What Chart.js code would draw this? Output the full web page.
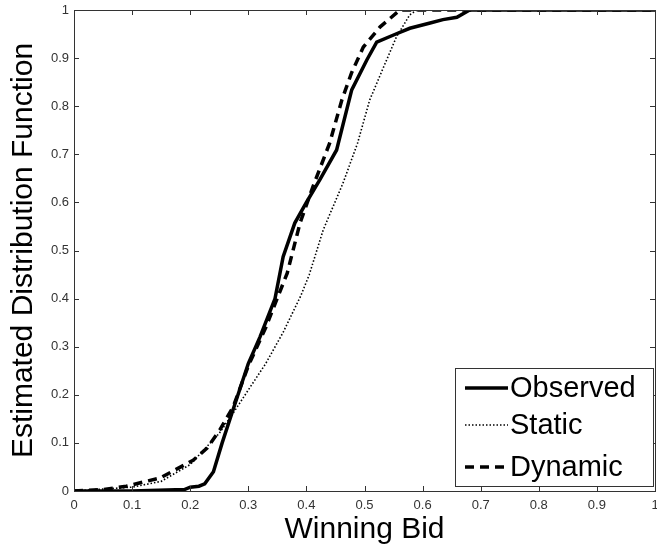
<!DOCTYPE html>
<html>
<head>
<meta charset="utf-8">
<script src="https://cdn.jsdelivr.net/npm/chart.js@4.4.1/dist/chart.umd.min.js"></script>
<style>
  html, body { margin: 0; padding: 0; background: #fff; }
  #wrap { width: 657px; height: 548px; }
</style>
</head>
<body>
<div id="wrap"><canvas id="cdf"></canvas></div>
<script>
// values
const observedX = [0, 0.1, 0.19, 0.2, 0.215, 0.225, 0.24, 0.255, 0.274, 0.3, 0.32, 0.346, 0.36, 0.38, 0.4, 0.423, 0.452, 0.478, 0.504, 0.521, 0.55, 0.578, 0.613, 0.635, 0.659, 0.681, 1];
const observedY = [0, 0, 0.003, 0.008, 0.01, 0.015, 0.04, 0.1, 0.17, 0.265, 0.32, 0.4, 0.487, 0.557, 0.6, 0.647, 0.709, 0.834, 0.896, 0.933, 0.948, 0.962, 0.973, 0.98, 0.985, 1, 1];

const staticX = [0, 0.1, 0.15, 0.2, 0.25, 0.274, 0.3, 0.33, 0.36, 0.39, 0.405, 0.429, 0.463, 0.488, 0.509, 0.538, 0.555, 0.578, 0.59, 1];
const staticY = [0, 0.008, 0.02, 0.055, 0.12, 0.162, 0.21, 0.265, 0.33, 0.405, 0.45, 0.543, 0.64, 0.723, 0.813, 0.896, 0.944, 0.99, 1, 1];

const dynamicX = [0, 0.05, 0.09, 0.148, 0.205, 0.229, 0.251, 0.274, 0.3, 0.33, 0.367, 0.389, 0.411, 0.44, 0.461, 0.478, 0.498, 0.527, 0.561, 1];
const dynamicY = [0, 0.003, 0.01, 0.027, 0.064, 0.089, 0.127, 0.175, 0.26, 0.34, 0.453, 0.557, 0.632, 0.723, 0.813, 0.87, 0.923, 0.965, 1, 1];

const tickValues = [0, 0.1, 0.2, 0.3, 0.4, 0.5, 0.6, 0.7, 0.8, 0.9, 1];

const FONT = '"Liberation Sans", Arial, sans-serif';
const AXIS = '#333';

function pts(xs, ys) {
  return xs.map((x, i) => ({ x: x, y: ys[i] }));
}

// MATLAB style box with inward ticks on all four sides
const boxPlugin = {
  id: 'box',
  afterDatasetsDraw(chart) {
    const { ctx, chartArea: a, scales: { x, y } } = chart;
    ctx.save();
    ctx.strokeStyle = AXIS;
    ctx.lineWidth = 1;
    ctx.strokeRect(a.left + 0.5, a.top + 0.5, a.right - a.left, a.bottom - a.top);
    ctx.beginPath();
    tickValues.forEach(v => {
      const px = Math.round(x.getPixelForValue(v)) + 0.5;
      ctx.moveTo(px, a.bottom); ctx.lineTo(px, a.bottom - 5);
      ctx.moveTo(px, a.top); ctx.lineTo(px, a.top + 5);
      const py = Math.round(y.getPixelForValue(v)) + 0.5;
      ctx.moveTo(a.left, py); ctx.lineTo(a.left + 5, py);
      ctx.moveTo(a.right, py); ctx.lineTo(a.right - 5, py);
    });
    ctx.stroke();
    ctx.restore();
  }
};

// legend box inside the lower right corner
const legendPlugin = {
  id: 'boxLegend',
  afterDraw(chart) {
    const { ctx, chartArea: a } = chart;
    const w = 198, h = 118;
    const left = a.right - 2 - w, top = a.bottom - 5 - h;
    ctx.save();
    ctx.fillStyle = '#fff';
    ctx.fillRect(left, top, w, h);
    ctx.strokeStyle = AXIS;
    ctx.lineWidth = 1;
    ctx.strokeRect(left + 0.5, top + 0.5, w, h);
    ctx.font = '29px ' + FONT;
    ctx.textBaseline = 'middle';
    ctx.fillStyle = '#000';
    const rows = [20, 57, 99];
    chart.data.datasets.forEach((ds, i) => {
      const yy = top + rows[i];
      ctx.beginPath();
      ctx.strokeStyle = '#000';
      ctx.lineWidth = ds.borderWidth;
      ctx.setLineDash(ds.borderDash || []);
      ctx.moveTo(left + 10, yy);
      ctx.lineTo(left + 53, yy);
      ctx.stroke();
      ctx.setLineDash([]);
      ctx.fillText(ds.label, left + 55, yy + 1);
    });
    ctx.restore();
  }
};

new Chart(document.getElementById('cdf'), {
  type: 'line',
  data: {
    datasets: [
      { label: 'Observed', data: pts(observedX, observedY), borderColor: '#000', borderWidth: 3.5, pointRadius: 0, tension: 0 },
      { label: 'Static', data: pts(staticX, staticY), borderColor: '#000', borderWidth: 1.6, borderDash: [1.5, 2], pointRadius: 0, tension: 0 },
      { label: 'Dynamic', data: pts(dynamicX, dynamicY), borderColor: '#000', borderWidth: 3.5, borderDash: [9, 6], pointRadius: 0, tension: 0 }
    ]
  },
  options: {
    responsive: true,
    maintainAspectRatio: false,
    animation: false,
    layout: { padding: { top: 10, right: 2, left: 0, bottom: 0 } },
    plugins: {
      legend: { display: false },
      tooltip: { enabled: false }
    },
    scales: {
      x: {
        type: 'linear',
        min: 0, max: 1,
        grid: { display: false, drawTicks: false },
        border: { display: false },
        afterBuildTicks: s => { s.ticks = tickValues.map(v => ({ value: v })); },
        afterFit: s => { s.height = 57; s.paddingRight = 0; s.paddingLeft = 0; },
        ticks: {
          padding: 7,
          maxRotation: 0,
          autoSkip: false,
          color: AXIS,
          font: { family: FONT, size: 13 },
          callback: v => String(v)
        },
        title: {
          display: true,
          text: 'Winning Bid',
          color: '#000',
          font: { family: FONT, size: 30 },
          padding: { top: 0, bottom: 0 }
        }
      },
      y: {
        min: 0, max: 1,
        grid: { display: false, drawTicks: false },
        border: { display: false },
        afterBuildTicks: s => { s.ticks = tickValues.map(v => ({ value: v })); },
        afterFit: s => { s.width = 74; s.paddingTop = 0; s.paddingBottom = 0; },
        ticks: {
          padding: 5,
          autoSkip: false,
          color: AXIS,
          font: { family: FONT, size: 13 },
          callback: v => String(v)
        },
        title: {
          display: true,
          text: 'Estimated Distribution Function',
          color: '#000',
          font: { family: FONT, size: 30 },
          padding: { top: 6, bottom: 0 }
        }
      }
    }
  },
  plugins: [boxPlugin, legendPlugin]
});
</script>
</body>
</html>
